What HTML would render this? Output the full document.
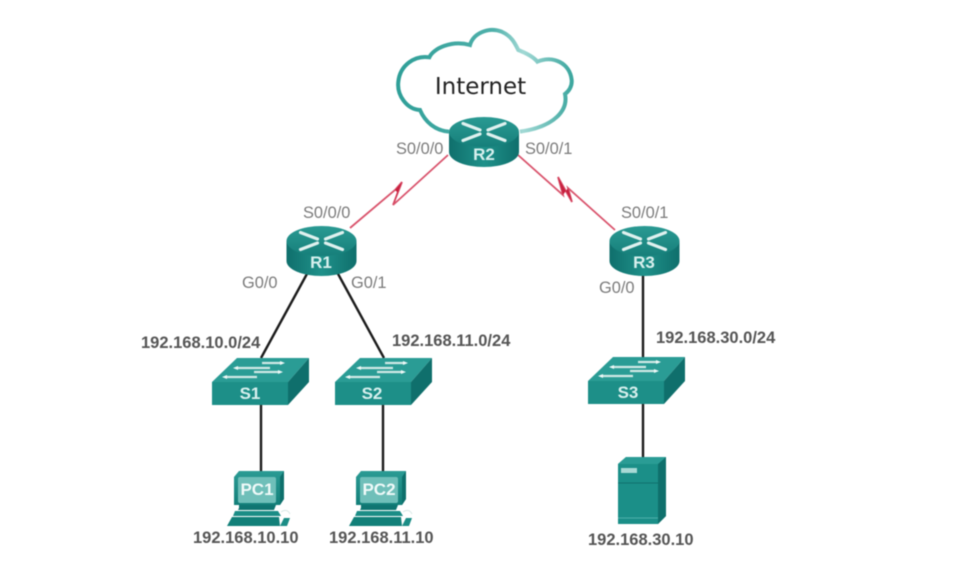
<!DOCTYPE html>
<html><head><meta charset="utf-8">
<style>
html,body{margin:0;padding:0;background:#fff;width:975px;height:573px;overflow:hidden}
svg{display:block;filter:blur(.5px)}
text{font-family:"Liberation Sans",sans-serif}
.g{font-size:16.4px;fill:#7b7b7b}
.b{font-size:16.5px;font-weight:bold;fill:#555}
.w{font-size:17px;font-weight:bold;fill:#d8f0ee;text-anchor:middle}
</style></head><body>
<svg width="975" height="573" viewBox="0 0 975 573" xmlns="http://www.w3.org/2000/svg">
<defs>
<linearGradient id="cl" x1="0" y1="0" x2="1" y2="0"><stop offset="0" stop-color="#2f9f98"/><stop offset=".55" stop-color="#4fb0aa"/><stop offset=".72" stop-color="#a2d9d5"/><stop offset="1" stop-color="#3da79f"/></linearGradient>
<linearGradient id="rb" x1="0" y1="0" x2="1" y2="0"><stop offset="0" stop-color="#0f6f6c"/><stop offset=".5" stop-color="#1f918a"/><stop offset="1" stop-color="#0f6f6c"/></linearGradient>
<linearGradient id="rt" x1="0" y1="0" x2="0" y2="1"><stop offset="0" stop-color="#2a9a93"/><stop offset="1" stop-color="#167f7a"/></linearGradient>
<linearGradient id="pcg" x1="0" y1="0" x2="0" y2="1"><stop offset="0" stop-color="#2b9b94"/><stop offset="1" stop-color="#137f79"/></linearGradient>
<g id="router">
<path d="M-35 0V20A35 15 0 0 0 35 20V0Z" fill="url(#rb)"/>
<ellipse cx="0" cy="0" rx="35" ry="15" fill="url(#rt)"/>
<g stroke="#dff1ef" stroke-width="3.200" stroke-linecap="round" fill="none">
<path d="M-21 -8.500L-4 -2M21 -8.500L4 -2M-21 8.500L-4 2M21 8.500L4 2"/>
</g>
</g>
<g id="switch">
<path d="M0 24L25 0H97L76 24Z" fill="#2a9c95"/>
<path d="M76 24L97 0V24L76 47Z" fill="#0f6f6c"/>
<rect x="0" y="24" width="76" height="23" fill="#1d8f88"/>
<g stroke="#cfe9e6" stroke-width="2.200" fill="none">
<path d="M50 5H70M26 10H58M42 14H68M15 19H45"/>
</g>
<path d="M68 3l5 2-5 2zM26 8l-5 2 5 2zM66 12l5 2-5 2zM15 17l-5 2 5 2z" fill="#eef8f7"/>
</g>
<g id="pc">
<path d="M0 6L5 0H50V28L46 34H0Z" fill="url(#pcg)"/>
<path d="M46 6L50 0V28L46 34Z" fill="#0e706c"/>
<rect x="4" y="6" width="38" height="26" rx="2" fill="#6fbfb9"/>
<path d="M5 34H42L40 39H4L5 37Z" fill="#0f7571"/>
<path d="M1 40H44L47 45H-1Z" fill="#1b8d86"/>
<path d="M-2 46H45L46 55H-7Z" fill="#128079"/>
<path d="M50 47h6l-3 8h-7z" fill="#1b8d86"/>
<path d="M47 41q6-4 9 2" stroke="#d8e8e6" fill="none"/>
</g>
</defs>

<path transform="translate(380,20) scale(.3333)" d="M207 335C165 332 135 305 120 270C80 268 50 225 55 185C60 135 105 105 148 112C160 85 215 60 270 75C280 40 325 20 365 35C395 48 405 70 415 90C440 100 460 110 472 125C520 105 570 130 575 180C577 200 565 215 555 222C565 270 525 320 420 335" fill="none" stroke="url(#cl)" stroke-width="12"/>
<text x="480.500" y="94" text-anchor="middle" style="font-family:'DejaVu Sans',sans-serif;font-size:23px" fill="#222">Internet</text>

<g fill="none" stroke="#d9536c" stroke-width="1.800">
<path d="M350 228L395 190L402 182L393 205L448 155"/>
<path d="M518 155L563 195L558 177L572 202L568 188L615 230"/>
</g>
<path d="M395 190L402 182L393 205L397 192Z" fill="#c8203f"/>
<path d="M563 195L558 177L572 202L568 188Z" fill="#c8203f"/>

<g fill="none" stroke="#1c1c1c" stroke-width="2.400">
<path d="M308 272L261 358M337 272L384 358M261 405V472M383 405V472M643 272V358M643 403V458"/>
</g>

<use href="#router" x="484" y="132"/>
<use href="#router" x="321.500" y="241"/>
<use href="#router" x="644.500" y="241"/>
<text class="w" x="484" y="160">R2</text>
<text class="w" x="321" y="268">R1</text>
<text class="w" x="644" y="268">R3</text>

<use href="#switch" x="212" y="358"/>
<use href="#switch" x="335" y="358"/>
<use href="#switch" x="588" y="357"/>
<text class="w" x="250" y="399">S1</text>
<text class="w" x="372" y="399">S2</text>
<text class="w" x="628" y="398">S3</text>

<use href="#pc" x="234" y="471"/>
<use href="#pc" x="356" y="471"/>
<text class="w" x="257" y="495" style="fill:#f0faf9">PC1</text>
<text class="w" x="379" y="495" style="fill:#f0faf9">PC2</text>

<path d="M618 464L626 457H666V516L658 524H618Z" fill="#1b8f88"/>
<path d="M658 464L666 457V516L658 524Z" fill="#0f706c"/>
<path d="M618 464L626 457H666L658 464Z" fill="#2a9c95"/>
<rect x="621" y="468" width="16" height="5" fill="#a8d9d5"/>
<path d="M618 483H658" stroke="#0f706c"/>
<path d="M618 518H658" stroke="#4fb0aa"/>

<text class="g" x="396" y="154">S0/0/0</text>
<text class="g" x="525" y="154">S0/0/1</text>
<text class="g" x="303" y="218">S0/0/0</text>
<text class="g" x="621" y="218">S0/0/1</text>
<text class="g" x="242" y="288">G0/0</text>
<text class="g" x="351" y="288">G0/1</text>
<text class="g" x="599" y="293">G0/0</text>
<text class="b" x="141" y="348">192.168.10.0/24</text>
<text class="b" x="392" y="346">192.168.11.0/24</text>
<text class="b" x="656" y="343">192.168.30.0/24</text>
<text class="b" x="193" y="543">192.168.10.10</text>
<text class="b" x="329" y="543">192.168.11.10</text>
<text class="b" x="588" y="545">192.168.30.10</text>
</svg>
</body></html>
